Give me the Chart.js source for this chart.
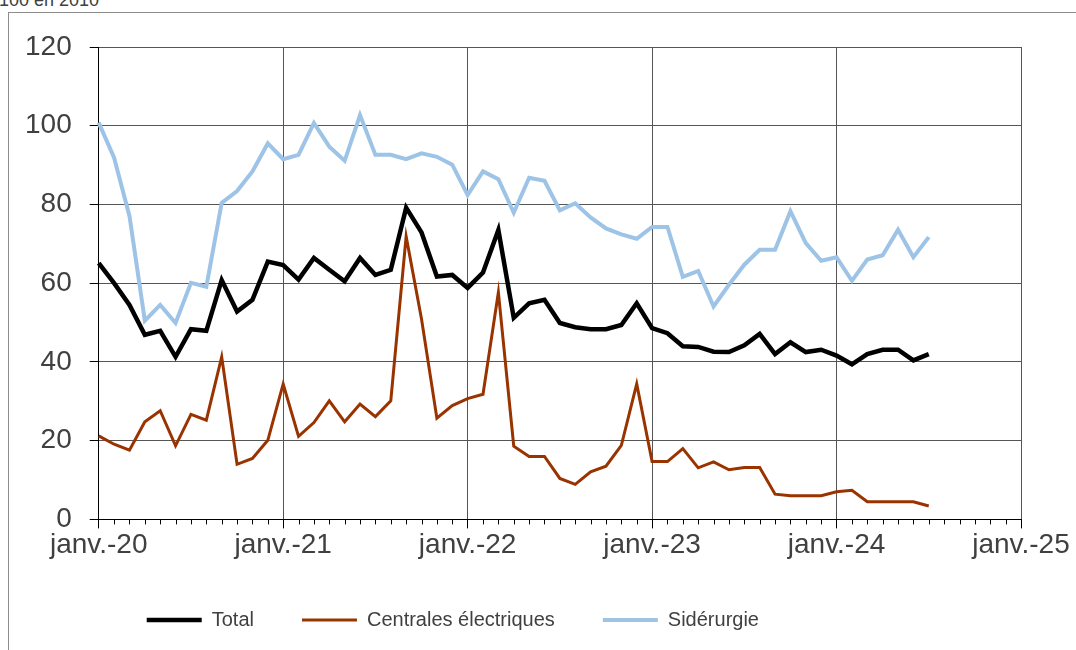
<!DOCTYPE html>
<html lang="fr">
<head>
    <meta charset="UTF-8">
    <title>Total, centrales électriques, sidérurgie</title>
    <script src="https://cdn.jsdelivr.net/npm/chart.js"></script>
    <style>
        body {
            margin: 0;
            background: #FFFFFF;
            font-family: 'Liberation Sans', Arial, sans-serif;
            overflow: hidden;
        }
        #wrap {
            position: relative;
            width: 1076px;
            height: 650px;
        }
        #cadre {
            position: absolute;
            left: 8px;
            top: 12px;
            width: 1200px;
            height: 800px;
            border-left: 1px solid #8C8C8C;
            border-top: 1px solid #8C8C8C;
        }
        #unite {
            position: absolute;
            left: -1px;
            top: -9px;
            font-size: 18px;
            line-height: 18px;
            color: #404040;
            white-space: nowrap;
        }
        #chartContainer {
            position: absolute;
            left: 0;
            top: 0;
            width: 1076px;
            height: 650px;
        }
    </style>
</head>
<body>
<div id="wrap">
    <div id="cadre"></div>
    <div id="unite">100 en 2010</div>
    <div id="chartContainer">
        <canvas id="graphique"></canvas>
    </div>
</div>

<script>
    // mois de janv. 2020 à janv. 2025 (axe), données jusqu'à juil. 2024
    const moisCourts = ['janv.', 'févr.', 'mars', 'avr.', 'mai', 'juin',
                        'juil.', 'août', 'sept.', 'oct.', 'nov.', 'déc.'];
    const annees = ['20', '21', '22', '23', '24', '25'];
    const mois = [];
    annees.forEach(a => moisCourts.forEach(m => mois.push(m + '-' + a)));
    mois.length = 61;

    const total = [
        65.1, 60.0, 54.5, 46.9, 47.9, 41.3, 48.3, 47.9, 60.8, 52.8, 55.8, 65.5,
        64.6, 60.9, 66.4, 63.4, 60.5, 66.4, 62.1, 63.4, 79.2, 72.9, 61.7, 62.1,
        58.8, 62.7, 73.5, 51.2, 54.9, 55.8, 49.9, 48.8, 48.3, 48.3, 49.4, 54.9,
        48.6, 47.3, 44.0, 43.8, 42.6, 42.5, 44.2, 47.1, 42.0, 45.0, 42.5, 43.1,
        41.6, 39.4, 42.0, 43.1, 43.1, 40.4, 42.0
    ];
    const centrales = [
        21.2, 19.1, 17.6, 24.8, 27.6, 18.7, 26.7, 25.2, 41.3, 14.0, 15.5, 20.1,
        34.4, 21.1, 24.6, 30.1, 24.8, 29.3, 26.1, 30.1, 71.9, 50.9, 25.7, 28.9,
        30.7, 31.8, 57.7, 18.6, 16.0, 16.0, 10.4, 8.9, 12.1, 13.5, 18.8, 34.4,
        14.7, 14.7, 18.0, 13.1, 14.6, 12.6, 13.2, 13.2, 6.4, 6.0, 6.0, 6.0,
        7.0, 7.4, 4.5, 4.5, 4.5, 4.5, 3.4
    ];
    const siderurgie = [
        100.8, 91.9, 77.1, 50.5, 54.5, 49.9, 60.1, 59.1, 80.4, 83.4, 88.4, 95.5,
        91.5, 92.6, 100.7, 94.7, 91.1, 102.7, 92.6, 92.6, 91.5, 93.0, 92.1, 90.1,
        82.4, 88.4, 86.4, 77.9, 86.8, 86.0, 78.5, 80.3, 76.7, 73.9, 72.4, 71.3,
        74.3, 74.3, 61.6, 63.1, 54.1, 59.6, 64.7, 68.5, 68.5, 78.3, 70.2, 65.7,
        66.6, 60.6, 66.0, 67.1, 73.6, 66.6, 71.7
    ];

    const police = "'Liberation Sans', Arial, sans-serif";
    const gris = '#404040';

    // petites graduations mensuelles sous l'axe des abscisses
    const graduationsMois = {
        id: 'graduationsMois',
        afterDraw(chart) {
            const sx = chart.scales.x;
            const c = chart.ctx;
            c.save();
            c.strokeStyle = '#000000';
            c.lineWidth = 1;
            for (let i = 0; i < mois.length; i++) {
                if (i % 12 === 0) continue;
                const x = Math.round(sx.getPixelForValue(i)) + 0.5;
                c.beginPath();
                c.moveTo(x, sx.top);
                c.lineTo(x, sx.top + 5);
                c.stroke();
            }
            c.restore();
        }
    };

    new Chart(document.getElementById('graphique'), {
        type: 'line',
        data: {
            labels: mois,
            datasets: [
                {
                    label: 'Total',
                    data: total,
                    borderColor: '#000000',
                    backgroundColor: '#000000',
                    borderWidth: 4.5,
                    pointRadius: 0,
                    tension: 0
                },
                {
                    label: 'Centrales électriques',
                    data: centrales,
                    borderColor: '#993300',
                    backgroundColor: '#993300',
                    borderWidth: 3,
                    pointRadius: 0,
                    tension: 0
                },
                {
                    label: 'Sidérurgie',
                    data: siderurgie,
                    borderColor: '#9DC3E6',
                    backgroundColor: '#9DC3E6',
                    borderWidth: 4,
                    pointRadius: 0,
                    tension: 0
                }
            ]
        },
        options: {
            responsive: true,
            maintainAspectRatio: false,
            animation: false,
            layout: {
                padding: { left: 7, top: 47, right: 55, bottom: 10 }
            },
            plugins: {
                tooltip: { enabled: false },
                legend: {
                    position: 'bottom',
                    align: 'start',
                    fullSize: false,
                    labels: {
                        usePointStyle: true,
                        pointStyle: 'line',
                        pointStyleWidth: 55,
                        padding: 48,
                        color: gris,
                        font: { family: police, size: 20 }
                    }
                }
            },
            scales: {
                x: {
                    type: 'category',
                    offset: false,
                    border: { color: '#000000', width: 1 },
                    grid: {
                        color: ctx => (ctx.index % 12 === 0 && ctx.index > 0) ? '#555555' : 'rgba(0,0,0,0)',
                        borderDash: [2, 2],
                        tickColor: ctx => ctx.index % 12 === 0 ? '#000000' : 'rgba(0,0,0,0)',
                        tickBorderDash: [],
                        tickLength: 9
                    },
                    ticks: {
                        autoSkip: false,
                        maxRotation: 0,
                        padding: 0,
                        color: gris,
                        font: { family: police, size: 28 },
                        callback: function (v, i) {
                            return i % 12 === 0 ? mois[i] : '';
                        }
                    }
                },
                y: {
                    min: 0,
                    max: 120,
                    border: { color: '#000000', width: 1 },
                    grid: {
                        color: '#555555',
                        borderDash: [2, 2],
                        tickColor: '#000000',
                        tickBorderDash: [],
                        tickLength: 9
                    },
                    ticks: {
                        stepSize: 20,
                        padding: 18,
                        color: gris,
                        font: { family: police, size: 28 }
                    }
                }
            }
        },
        plugins: [graduationsMois]
    });
</script>
</body>
</html>
